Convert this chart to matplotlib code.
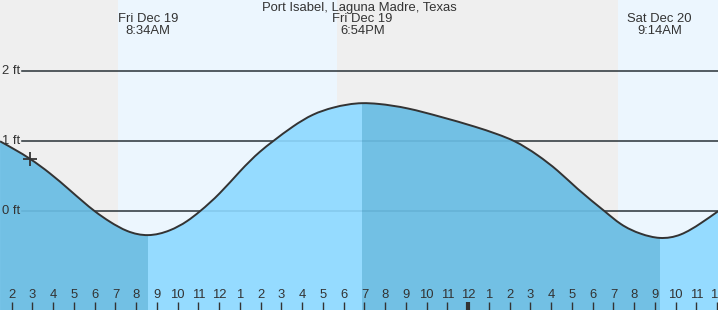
import numpy as np
import matplotlib.pyplot as plt
from matplotlib.path import Path
from matplotlib.patches import PathPatch

# tide heights (hours since midnight Fri Dec 19, feet)
tide_hours = [1.44, 2.88, 3.85, 4.81, 6.01, 6.74, 7.56, 8.57, 9.63, 10.45,
              11.07, 12.03, 13.00, 13.96, 14.59, 15.55, 16.52, 17.48, 18.90,
              19.65, 21.08, 22.67, 24.31, 25.42, 26.24, 27.35, 28.31, 29.28,
              30.58, 31.35, 32.32, 33.23, 34.25, 35.21, 36.04]
tide_feet = [1.00, 0.75, 0.54, 0.30, 0.00, -0.15, -0.28, -0.34, -0.27, -0.14,
             0.00, 0.26, 0.57, 0.85, 1.00, 1.21, 1.38, 1.48, 1.545,
             1.535, 1.47, 1.35, 1.21, 1.10, 1.00, 0.80, 0.58, 0.32,
             0.00, -0.18, -0.32, -0.38, -0.33, -0.17, 0.00]

# high / low tide events
event_hours = [8.57, 18.90, 33.23]
event_types = ['low', 'high', 'low']
event_labels = ['Fri Dec 19\n8:34AM', 'Fri Dec 19\n6:54PM', 'Sat Dec 20\n9:14AM']

# daylight (sunrise, sunset)
daylight = [(7.12, 17.68), (31.22, 40.0)]

now_hour, now_feet = 2.88, 0.75

grid_feet = [0, 1, 2]
tick_hours = list(range(2, 37))

title = 'Port Isabel, Laguna Madre, Texas'

X0, X1 = 1.436, 36.04
Y0, Y1 = -1.41, 3.019
C_TEXT = '#333333'
FS = 9.4
FAMILY = ['Liberation Sans', 'DejaVu Sans']


def smooth_path(xs, ys):
    """Natural cubic spline through the points, drawn as bezier segments"""
    xs = np.asarray(xs, float)
    ys = np.asarray(ys, float)
    n = len(xs)
    h = np.diff(xs)
    A = np.zeros((n, n))
    b = np.zeros(n)
    A[0, 0] = A[-1, -1] = 1
    for i in range(1, n - 1):
        A[i, i - 1] = h[i - 1]
        A[i, i] = 2 * (h[i - 1] + h[i])
        A[i, i + 1] = h[i]
        b[i] = 6 * ((ys[i + 1] - ys[i]) / h[i] - (ys[i] - ys[i - 1]) / h[i - 1])
    M = np.linalg.solve(A, b)
    verts = [(xs[0], ys[0])]
    codes = [Path.MOVETO]
    for i in range(n - 1):
        d = (ys[i + 1] - ys[i]) / h[i]
        s0 = d - h[i] * (2 * M[i] + M[i + 1]) / 6
        s1 = d + h[i] * (M[i] + 2 * M[i + 1]) / 6
        verts += [(xs[i] + h[i] / 3, ys[i] + s0 * h[i] / 3),
                  (xs[i + 1] - h[i] / 3, ys[i + 1] - s1 * h[i] / 3),
                  (xs[i + 1], ys[i + 1])]
        codes += [Path.CURVE4] * 3
    return verts, codes


plt.rcParams['font.family'] = FAMILY

fig = plt.figure(figsize=(7.18, 3.10), dpi=100)
ax = fig.add_axes([0, 0, 1, 1])
ax.set_xlim(X0, X1)
ax.set_ylim(Y0, Y1)
ax.axis('off')
ax.add_patch(plt.Rectangle((0, 0), 1, 1, transform=ax.transAxes,
                           color='#efefef', zorder=0))

for start, end in daylight:
    ax.axvspan(start, end, color='#ecf6fe', lw=0, zorder=0.5)

# grid lines (under the water) plus a faint copy over it
for ft in grid_feet:
    ax.axhline(ft, xmin=22 / 718, color=C_TEXT, lw=1.1, zorder=1)
    ax.axhline(ft, xmin=22 / 718, color='#1a5a80', alpha=0.15, lw=1.1, zorder=3)
    ax.text(2 / 718, ft, f'{ft} ft', transform=ax.get_yaxis_transform(),
            ha='left', va='center', fontsize=FS, color=C_TEXT, zorder=5)

verts, codes = smooth_path(tide_hours, tide_feet)
fill_verts = verts + [(tide_hours[-1], Y0 - 1), (tide_hours[0], Y0 - 1), (0, 0)]
fill_codes = codes + [Path.LINETO, Path.LINETO, Path.CLOSEPOLY]
water = PathPatch(Path(fill_verts, fill_codes), facecolor='#95dbff',
                  edgecolor='none', transform=ax.transData, zorder=2)
ax.add_patch(water)

# falling tide is drawn darker
bounds = [X0 - 1] + event_hours + [X1 + 1]
for i in range(len(bounds) - 1):
    ends_low = i < len(event_types) and event_types[i] == 'low'
    if ends_low:
        span = ax.axvspan(bounds[i], bounds[i + 1], color='#72c0e4', lw=0, zorder=2.1)
        span.set_clip_path(water)

ax.add_patch(PathPatch(Path(verts, codes), facecolor='none', edgecolor=C_TEXT,
                       lw=1.4, transform=ax.transData, zorder=4))

ax.plot([now_hour], [now_feet], marker='+', ms=10, mew=1.3, color=C_TEXT, zorder=5)

ax.text(0.5, 1 - 8 / 310, title, transform=ax.transAxes, ha='center',
        va='center', fontsize=FS, color=C_TEXT)
for h, lab in zip(event_hours, event_labels):
    ax.text(h, 1 - 25 / 310, lab, transform=ax.get_xaxis_transform(),
            ha='center', va='center', fontsize=FS, color=C_TEXT, linespacing=0.95)

# hour ticks along the bottom
xt = ax.get_xaxis_transform()
for h in tick_hours:
    lw = 3 if h % 24 == 0 else 1
    ax.plot([h, h], [0, 8 / 310], transform=xt, color=C_TEXT, lw=lw,
            solid_capstyle='butt', zorder=5)
    lab = (h - 1) % 12 + 1
    ax.text(h, 14.5 / 310, str(lab), transform=xt, ha='center', va='center',
            fontsize=FS, color=C_TEXT, zorder=5)

fig.savefig('out.png', dpi=100)
